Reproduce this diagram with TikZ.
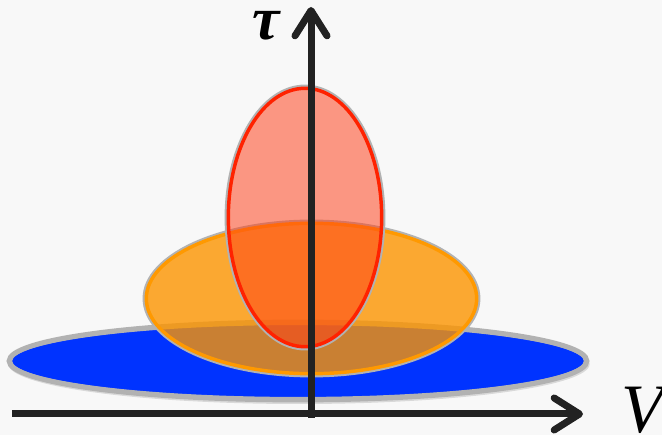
\documentclass[tikz,border=0pt]{standalone}
\usepackage{fontspec}
\setmainfont{Liberation Serif}
\usetikzlibrary{arrows.meta}

\definecolor{bgcol}{RGB}{248,248,248}
\definecolor{axiscol}{RGB}{34,34,34}
\definecolor{rimgray}{RGB}{178,178,178}
\definecolor{flatblue}{RGB}{0,51,255}
\definecolor{midorange}{RGB}{252,148,0}
\definecolor{rimorange}{RGB}{255,153,0}
\definecolor{tallred}{RGB}{255,62,22}
\definecolor{rimred}{RGB}{255,34,0}

% #1 centre, #2 x radius (pt), #3 y radius (pt), #4 fill, #5 opacity, #6 rim colour
\newcommand\lobe[6]{%
  \fill[#4, fill opacity=#5] (#1) ellipse [x radius=#2pt, y radius=#3pt];
  \draw[rimgray, line width=3.6pt] (#1) ellipse [x radius=#2pt, y radius=#3pt];
  \draw[#6, line width=2.6pt] (#1) ellipse [x radius=#2pt-1pt, y radius=#3pt-1pt];
}

\begin{document}
\begin{tikzpicture}[x=0.75pt,y=-0.75pt,
  axis/.style={draw=axiscol, line width=5.25pt,
               -{Straight Barb[length=19pt,width=24pt,round]}},
  lab/.style={inner sep=0pt, text=black}
]
\useasboundingbox[fill=bgcol] (0,0) rectangle (662,435);

% soft shadow under the flat lobe
\fill[black, opacity=0.12] (299,364) ellipse [x radius=218pt, y radius=30pt];

% flat, middle and tall lobes
\lobe{298,361}{216.75}{29.25}{flatblue}{1}{rimgray}
\lobe{311.5,298.5}{124.9}{57.4}{midorange}{0.8}{rimorange}
\lobe{305,217.5}{58.5}{97.9}{tallred}{0.52}{rimred}

% axes
\coordinate (o) at (311,414);
\coordinate (xl) at (12,414);
\coordinate (xr) at (583,414);
\coordinate (yb) at (311,418);
\coordinate (yt) at (311,7);
\draw[axis] (xl) -- (xr);
\draw[axis] (yb) -- (yt);

\node[lab, anchor=base] (tau) at (266,40) {\fontsize{46}{46}\selectfont\bfseries\itshape τ};
\node[lab, anchor=base west] (vol) at (621,432) {\fontsize{52}{52}\selectfont\itshape V};
\end{tikzpicture}
\end{document}
